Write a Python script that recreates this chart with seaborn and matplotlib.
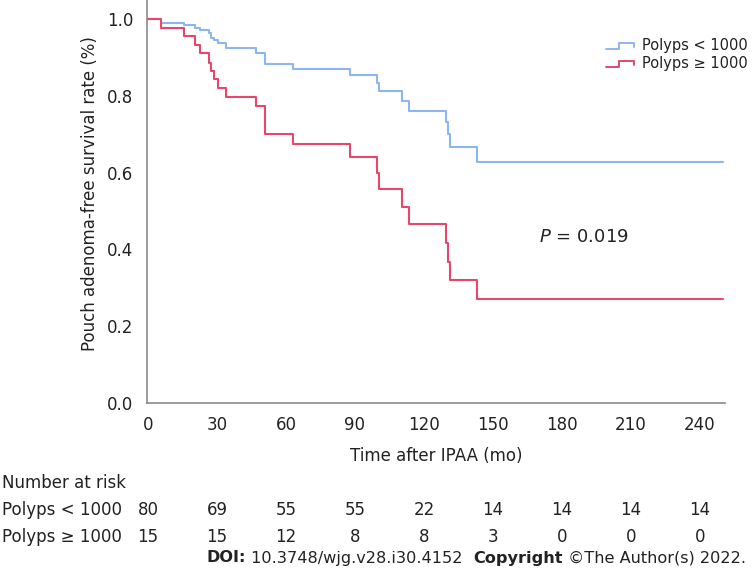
import numpy as np
import pandas as pd
import seaborn as sns
import matplotlib
matplotlib.use('Agg')
import matplotlib.pyplot as plt
from matplotlib.lines import Line2D
from matplotlib.legend_handler import HandlerBase
import matplotlib.transforms as mtransforms

# Kaplan-Meier steps (months, survival)
time_lo = [0, 5.6, 15.7, 20.3, 22.5, 26.5, 27.5, 28.5, 30.4, 33.7, 47, 51, 63.1, 88,
           99.6, 100.6, 110.4, 113.6, 129.4, 130.3, 131.3, 143.3, 250]
surv_lo = [1.0, 0.991, 0.984, 0.978, 0.971, 0.965, 0.952, 0.945, 0.938, 0.924, 0.912, 0.883,
           0.870, 0.854, 0.834, 0.8125, 0.787, 0.761, 0.733, 0.702, 0.667, 0.628, 0.628]
time_hi = [0, 5.6, 15.7, 20.3, 22.5, 26.5, 27.5, 28.5, 30.4, 33.7, 47, 51, 63.1, 88,
           99.6, 100.6, 110.4, 113.6, 129.4, 130.3, 131.3, 143.3, 250]
surv_hi = [1.0, 0.978, 0.956, 0.934, 0.911, 0.886, 0.865, 0.843, 0.820, 0.798, 0.773, 0.702,
           0.676, 0.641, 0.598, 0.557, 0.511, 0.466, 0.416, 0.368, 0.320, 0.270, 0.270]

groups = ['Polyps < 1000', 'Polyps \u2265 1000']
colors = ['#8db6ee', '#e6476b']

risk_times = [0, 30, 60, 90, 120, 150, 180, 210, 240]
risk_lo = [80, 69, 55, 55, 22, 14, 14, 14, 14]
risk_hi = [15, 15, 12, 8, 8, 3, 0, 0, 0]

df = pd.concat([
    pd.DataFrame({'time': time_lo, 'surv': surv_lo, 'group': groups[0]}),
    pd.DataFrame({'time': time_hi, 'surv': surv_hi, 'group': groups[1]}),
], ignore_index=True)

sns.set_theme(style='white')
plt.rcParams['font.family'] = ['DejaVu Sans']
plt.rcParams['text.color'] = '#222222'
plt.rcParams['axes.labelcolor'] = '#222222'
plt.rcParams['xtick.color'] = '#222222'
plt.rcParams['ytick.color'] = '#222222'

fig = plt.figure(figsize=(7.52, 5.71), dpi=100)
ax = fig.add_axes([147 / 752, 1 - 403 / 571, 578 / 752, 403 / 571])

sns.lineplot(data=df, x='time', y='surv', hue='group', palette=colors,
             estimator=None, sort=False, drawstyle='steps-post',
             linewidth=1.5, legend=False, ax=ax)

ax.set_xlim(-0.5, 251)
ax.set_ylim(0, 1.05)
ax.set_xticks(risk_times)
ax.set_yticks([0, 0.2, 0.4, 0.6, 0.8, 1.0])
ax.set_yticklabels(['0.0', '0.2', '0.4', '0.6', '0.8', '1.0'])
ax.tick_params(axis='both', length=0, labelsize=12)
ax.tick_params(axis='x', pad=9)
ax.tick_params(axis='y', pad=10)
for s in ['top', 'right']:
    ax.spines[s].set_visible(False)
for s in ['left', 'bottom']:
    ax.spines[s].set_color('#8a8a8a')
    ax.spines[s].set_linewidth(1.2)

ax.set_xlabel('Time after IPAA (mo)', fontsize=12)
ax.set_ylabel('Pouch adenoma-free survival rate (%)', fontsize=12)
ax.xaxis.set_label_coords(0.5, -0.108)
ax.yaxis.set_label_coords(-0.083, 0.52)

ax.text(170, 0.432, r'$P$ = 0.019', fontsize=13, va='center', ha='left')


class StepHandler(HandlerBase):
    def create_artists(self, legend, orig_handle, xdescent, ydescent,
                       width, height, fontsize, trans):
        x0, y0 = -xdescent, -ydescent
        xs = [x0, x0 + 0.45 * width, x0 + 0.45 * width, x0 + width, x0 + width]
        ys = [y0 + 0.1 * height, y0 + 0.1 * height, y0 + 0.7 * height,
              y0 + 0.7 * height, y0 + 0.3 * height]
        ln = Line2D(xs, ys, color=orig_handle.get_color(), lw=1.4)
        ln.set_transform(trans)
        return [ln]


handles = [Line2D([], [], color=c) for c in colors]
fig.legend(handles, groups, loc='upper right',
           bbox_to_anchor=(755 / 752, 1 - 31 / 571),
           frameon=False, fontsize=10.5, handlelength=1.9, handletextpad=0.55,
           labelspacing=0.2, borderpad=0,
           handler_map={Line2D: StepHandler()})

# number at risk table
trans = mtransforms.blended_transform_factory(ax.transData, fig.transFigure)
fig.text(0.002, 1 - 483 / 571, 'Number at risk', fontsize=12, va='center', ha='left')
for row_y, label, vals in [(510, groups[0], risk_lo), (537, groups[1], risk_hi)]:
    fig.text(0.002, 1 - row_y / 571, label, fontsize=12, va='center', ha='left')
    for t, v in zip(risk_times, vals):
        ax.text(t, 1 - row_y / 571, str(v), transform=trans, fontsize=12,
                va='center', ha='center')

# footer with mixed bold
fig.canvas.draw()
renderer = fig.canvas.get_renderer()
parts = [('DOI:', 'bold'), (' 10.3748/wjg.v28.i30.4152  ', 'normal'),
         ('Copyright', 'bold'), (' \u00a9The Author(s) 2022.', 'normal')]
x = 207
for txt, w in parts:
    t = fig.text(x / 752, 1 - 558 / 571, txt, fontsize=11.65, fontweight=w,
                 va='center', ha='left')
    bb = t.get_window_extent(renderer=renderer)
    x += bb.width

fig.savefig('out.png', dpi=100)
